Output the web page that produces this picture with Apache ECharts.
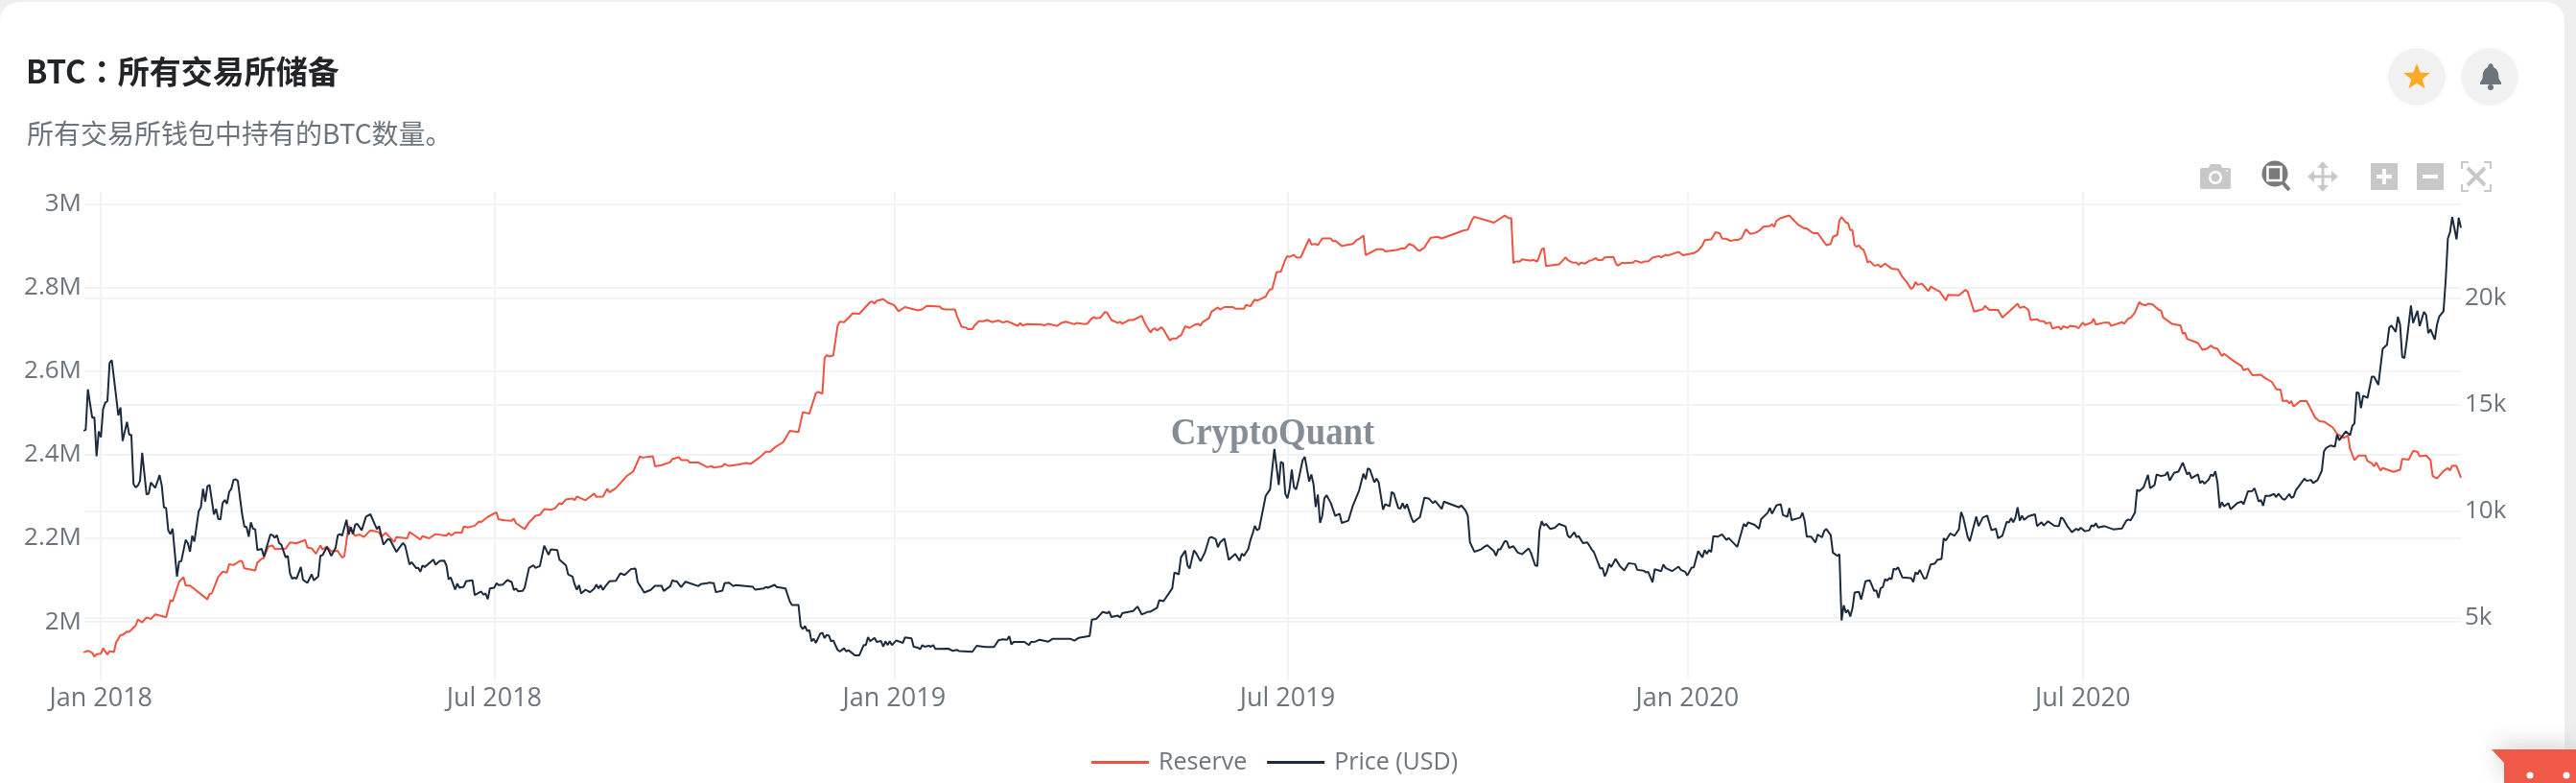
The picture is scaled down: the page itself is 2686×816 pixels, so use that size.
<!DOCTYPE html>
<html>
<head>
<meta charset="utf-8">
<script src="https://cdn.jsdelivr.net/npm/echarts@6/dist/echarts.min.js"></script>
<style>
html,body{margin:0;padding:0;background:#efefef;width:2686px;height:816px;overflow:hidden}
#card{position:absolute;left:0;top:2px;width:2674px;height:900px;background:#fff;border-radius:20px}
#chart{position:absolute;left:0;top:0;width:2686px;height:816px}
</style>
</head>
<body>
<div id="card"></div>
<div id="chart"></div>
<script>
// Readings: [days since 1 Jan 2018, value]. Reserve is in thousand BTC, price in USD.
const reserveReadings = [[-8,1927],[-6,1931],[-4,1926],[-3,1917],[-2,1923],[0,1924],[1,1937],[3,1922],[4,1930],[6,1928],[7,1951],[9,1969],[10,1969],[12,1977],[13,1976],[16,1991],[17,2006],[19,1999],[21,2011],[23,2007],[25,2018],[30,2011],[32,2052],[33,2049],[36,2096],[38,2107],[39,2087],[41,2087],[49,2054],[50,2067],[51,2068],[54,2108],[56,2120],[58,2118],[59,2138],[61,2136],[64,2146],[65,2145],[66,2128],[71,2123],[72,2142],[74,2151],[75,2153],[77,2180],[79,2183],[80,2174],[85,2175],[87,2190],[90,2188],[94,2196],[95,2178],[97,2176],[99,2163],[101,2183],[102,2173],[104,2180],[106,2169],[109,2170],[110,2161],[111,2154],[112,2157],[114,2230],[115,2219],[117,2206],[119,2209],[121,2203],[124,2219],[126,2217],[128,2214],
[129,2203],[131,2213],[135,2191],[136,2203],[141,2200],[142,2215],[147,2197],[148,2205],[151,2200],[154,2210],[159,2206],[160,2213],[161,2207],[162,2209],[163,2214],[166,2213],[167,2228],[169,2226],[172,2230],[174,2240],[175,2239],[178,2251],[182,2262],[183,2245],[186,2243],[189,2242],[190,2247],[191,2236],[195,2222],[197,2238],[198,2243],[200,2254],[202,2256],[204,2270],[207,2268],[209,2272],[211,2284],[212,2281],[214,2293],[217,2295],[218,2291],[219,2300],[223,2291],[227,2307],[228,2299],[231,2300],[233,2318],[234,2310],[237,2320],[242,2349],[245,2360],[248,2396],[249,2393],[254,2396],[255,2372],[258,2375],[262,2382],[263,2390],[264,2391],
[266,2394],[267,2387],[270,2387],[271,2381],[275,2381],[279,2370],[281,2373],[282,2369],[286,2372],[287,2378],[289,2373],[293,2376],[297,2380],[299,2378],[303,2393],[306,2407],[308,2407],[310,2417],[314,2430],[317,2457],[321,2454],[323,2502],[326,2498],[329,2547],[330,2550],[332,2546],[333,2631],[334,2638],[335,2635],[337,2637],[339,2708],[340,2718],[342,2717],[346,2738],[349,2737],[354,2765],[355,2766],[356,2761],[357,2768],[360,2772],[362,2764],[365,2758],[367,2743],[370,2753],[376,2745],[378,2748],[380,2756],[386,2754],[387,2749],[389,2747],[393,2747],[394,2731],[396,2706],[398,2704],[399,2700],[401,2700],[402,2709],
[404,2719],[406,2719],[408,2722],[410,2717],[413,2721],[415,2716],[417,2719],[418,2717],[421,2710],[422,2708],[423,2715],[424,2709],[426,2712],[433,2711],[434,2709],[436,2713],[440,2708],[442,2715],[444,2718],[448,2712],[449,2715],[453,2712],[454,2714],[456,2726],[457,2729],[458,2726],[460,2728],[462,2741],[463,2740],[465,2722],[468,2715],[469,2718],[470,2713],[473,2722],[475,2722],[479,2732],[480,2719],[481,2709],[483,2692],[484,2700],[485,2702],[486,2697],[488,2705],[489,2699],[491,2681],[492,2673],[493,2678],[495,2678],[496,2683],[497,2685],[499,2707],[501,2703],[503,2710],[505,2713],[506,2708],[507,2717],[510,2727],[511,2742],[514,2752],[515,2747],[517,2753],[521,2753],[522,2749],[526,2749],[527,2758],[529,2755],[531,2771],[532,2768],[536,2778],[537,2788],[538,2795],
[539,2796],[541,2836],[543,2838],[545,2866],[546,2875],[547,2873],[549,2878],[550,2872],[552,2871],[556,2916],[557,2903],[559,2904],[560,2901],[562,2917],[566,2917],[567,2910],[568,2912],[571,2899],[574,2902],[576,2904],[578,2914],[579,2916],[581,2924],[582,2877],[587,2891],[590,2891],[591,2886],[597,2890],[598,2893],[600,2893],[602,2904],[604,2900],[606,2889],[607,2888],[609,2895],[610,2904],[612,2919],[615,2921],[617,2917],[627,2936],[629,2938],[631,2962],[632,2969],[641,2955],[646,2972],[648,2965],[649,2966],[650,2858],[651,2862],[653,2862],[654,2867],[658,2864],[659,2866],[661,2862],[663,2891],[664,2894],[665,2851],[671,2855],[674,2872],[675,2865],
[677,2860],[679,2859],[680,2854],[681,2859],[683,2857],[685,2864],[686,2865],[688,2870],[689,2865],[691,2866],[692,2872],[696,2873],[697,2859],[698,2852],[700,2859],[701,2858],[705,2859],[706,2864],[709,2859],[710,2862],[712,2862],[714,2871],[717,2875],[718,2872],[720,2878],[721,2876],[726,2885],[728,2877],[733,2882],[735,2888],[737,2901],[738,2913],[741,2915],[743,2932],[745,2929],[746,2917],[748,2916],[750,2911],[752,2914],[753,2913],[755,2918],[757,2939],[759,2928],[761,2930],[763,2935],[765,2945],[768,2947],[769,2951],[770,2945],[771,2959],[773,2966],[777,2972],[778,2966],[781,2950],[784,2941],[785,2941],[787,2933],[788,2930],[790,2930],[794,2901],[796,2904],[797,2921],[799,2925],[800,2960],[801,2968],[803,2955],[804,2954],[805,2937],[806,2937],[807,2901],[808,2897],[809,2901],[810,2893],[811,2891],[812,2878],
[813,2859],[814,2863],[816,2852],[818,2854],[819,2849],[821,2857],[824,2845],[827,2843],[829,2825],[831,2813],[833,2796],[834,2800],[835,2813],[836,2806],[838,2809],[841,2791],[842,2802],[845,2793],[846,2791],[849,2769],[850,2782],[855,2781],[858,2794],[859,2790],[862,2742],[866,2748],[867,2756],[869,2746],[873,2746],[875,2728],[882,2761],[883,2751],[885,2754],[887,2746],[888,2722],[891,2724],[892,2720],[894,2719],[895,2714],[897,2716],[898,2702],[901,2706],[902,2699],[903,2707],[905,2703],[906,2708],[909,2706],[910,2702],[912,2716],[913,2710],[916,2716],[917,2725],[918,2711],[922,2716],[924,2716],[925,2708],[930,2717],[931,2713],[933,2726],[934,2727],[936,2740],[938,2765],[939,2760],[941,2757],[942,2761],[944,2760],[947,2746],[948,2745],[949,2728],
[953,2713],[957,2709],[958,2689],[959,2692],[960,2677],[965,2667],[967,2651],[969,2653],[971,2661],[972,2656],[974,2653],[976,2636],[977,2641],[982,2622],[985,2612],[986,2602],[988,2606],[990,2590],[994,2591],[996,2583],[999,2574],[1001,2557],[1003,2555],[1004,2528],[1006,2529],[1007,2523],[1008,2528],[1009,2515],[1012,2528],[1015,2528],[1019,2488],[1021,2480],[1023,2479],[1027,2465],[1029,2450],[1032,2440],[1034,2446],[1035,2414],[1037,2387],[1039,2398],[1042,2398],[1043,2385],[1045,2379],[1046,2372],[1047,2381],[1049,2362],[1050,2368],[1055,2359],[1058,2364],[1059,2390],[1062,2388],[1064,2409],[1066,2407],[1067,2396],[1070,2398],[1072,2387],[1073,2349],[1075,2343],[1078,2361],[1080,2368],[1081,2362],[1082,2374],[1084,2373],[1086,2345]];

const priceReadings = [[-8,13772],[-7,13817],[-6,15718],[-4,14386],[-3,14400],[-2,12575],[-1,13742],[0,13473],[1,14790],[2,15090],[3,15164],[4,16961],[5,17080],[7,15389],[8,14490],[9,14865],[10,13293],[12,14192],[13,13593],[14,13577],[15,11272],[16,11108],[17,11198],[18,11422],[19,12739],[21,10778],[22,10823],[23,11348],[25,11092],[27,11692],[28,11198],[29,10179],[30,10149],[31,9102],[32,8922],[33,9177],[35,6931],[36,7634],[37,7650],[39,8652],[40,8503],[41,8098],[42,8847],[43,8578],[45,9999],[46,10179],[47,11048],[48,10449],[49,11168],[50,11228],[52,9851],[53,10105],[54,9641],[55,9611],[56,10374],[57,10524],[58,10344],[59,10898],[60,11048],[61,11466],[62,11496],[63,11422],[65,9851],[66,9281],[67,9251],[68,8802],[69,9476],[70,9177],[71,9147],[72,8174],[74,8234],[75,7874],[78,8907],[79,8877],[80,8757],[81,8877],[82,8503],[83,8428],[85,7830],[86,7904],[87,7081],[88,6827],[89,6886],[90,6827],[92,7380],[93,6781],[95,6631],[97,7036],[98,6751],[100,6931],[101,7904],[102,7934],[104,8324],[106,7904],[108,8278],[109,8862],[110,8922],[111,8847],[113,9595],[114,8892],[115,9251],[116,8922],[117,9371],[118,9401],[120,9102],[122,9745],[124,9851],[127,9161],
[128,9296],[130,8428],[132,8682],[133,8668],[136,8084],[137,8234],[139,8503],[140,8383],[142,7500],[143,7605],[145,7335],[146,7336],[147,7155],[148,7455],[149,7380],[153,7724],[154,7485],[156,7664],[158,7680],[159,7455],[160,6797],[161,6886],[163,6317],[164,6601],[165,6407],[167,6452],[168,6707],[171,6751],[172,6063],[175,6227],[176,6078],[177,6137],[178,5868],[179,6377],[181,6407],[182,6617],[183,6527],[185,6557],[187,6767],[189,6677],[190,6303],[191,6363],[192,6243],[194,6257],[195,6407],[197,7335],[199,7455],[200,7335],[202,7425],[204,8383],[206,7949],[207,8204],[210,8174],[211,7724],[214,7455],[215,7036],[217,6931],[218,6557],[219,6317],[220,6527],[221,6137],[223,6317],[225,6197],[227,6363],[228,6557],[229,6377],[230,6527],[231,6303],[232,6452],[234,6707],[237,6737],[239,7081],[241,7006],[244,7290],[246,7305],[247,6677],[250,6183],[253,6303],[255,6497],[258,6497],[259,6257],[262,6482],[263,6767],[264,6707],
[265,6707],[267,6437],[269,6691],[275,6482],[276,6571],[279,6617],[280,6647],[282,6617],[283,6197],[286,6273],[287,6617],[289,6647],[291,6482],[292,6527],[300,6452],[301,6317],[305,6377],[306,6437],[307,6407],[310,6541],[311,6437],[315,6377],[317,5763],[318,5599],[321,5599],[322,4611],[323,4461],[324,4611],[325,4371],[326,4416],[327,3892],[328,4012],[329,3817],[331,4252],[332,4296],[333,4042],[334,4192],[335,4162],[336,3892],[337,3937],[339,3489],[340,3413],[342,3563],[343,3413],[344,3473],[347,3233],[349,3233],[351,3713],[352,3713],[353,4087],[354,3892],[356,4057],[357,3863],[359,3907],[360,3637],[361,3892],[362,3713],[363,3892],[364,3713],[366,3937],[369,3817],[370,4072],[373,4027],[374,3637],[376,3593],[377,3518],[378,3713],[379,3637],[381,3683],[382,3637],[383,3713],[384,3533],[390,3547],[392,3443],[394,3489],[395,3429],[401,3399],
[403,3683],[407,3623],[411,3623],[413,3937],[415,3982],[417,3967],[418,4132],[419,3743],[420,3863],[425,3863],[427,3713],[428,3863],[430,3877],[432,3967],[436,3877],[438,4012],[446,4012],[448,3922],[450,4057],[455,4147],[456,4910],[458,4940],[461,5270],[463,5210],[464,5284],[465,5030],[468,5104],[469,5014],[470,5210],[475,5314],[477,5524],[479,5150],[482,5284],[483,5284],[486,5464],[487,5823],[489,5778],[493,6377],[494,7125],[496,7036],[497,7830],[499,8144],[500,7455],[501,7305],[503,8158],[504,8024],[506,7650],[508,8054],[510,8728],[511,8787],[513,8682],[514,8308],[515,8532],[517,8712],[519,7710],[522,7994],[524,7664],[525,8008],[526,7904],[528,8234],[529,8652],[530,8952],[531,9311],[532,9102],[533,9177],[536,10718],[538,11018],
[540,12919],[542,11228],[543,12320],[544,12245],[545,10823],[546,10599],[547,11048],[548,11946],[549,11122],[550,11018],[551,11422],[553,12395],[554,12545],[556,11392],[557,11722],[558,11272],[559,10195],[560,10778],[561,9446],[562,9775],[563,10599],[564,10748],[566,10374],[568,9775],[570,9880],[571,9446],[574,9551],[576,10225],[579,10973],[581,11766],[582,11496],[583,12006],[584,11946],[586,11348],[587,11526],[588,11348],[590,10075],[591,10329],[593,10225],[594,10898],[595,10823],[597,10149],[598,10119],[599,10374],[600,10119],[601,10329],[603,9701],[604,9476],[607,9731],[609,10628],[611,10599],[613,10374],[614,10479],[617,10105],[618,10449],[625,10179],[626,10269],[628,10029],[629,9775],[630,8532],[632,8098],[635,8204],[637,8354],[638,8398],[641,8128],[642,7904],[643,8204],[644,8204],[646,8592],[647,8578],[648,8278],[650,8354],[652,8054],[654,7979],[657,8248],[658,8054],[660,7455],[661,7425],[662,9102],[663,9521],[664,9326],[665,9401],[667,9161],[669,9221],[671,9401],[674,9281],[675,8847],
[676,8757],[678,9012],[679,8772],[680,8832],[682,8503],[684,8532],[686,8204],[687,8084],[690,7305],[691,7335],[692,6946],[693,7155],[694,7530],[695,7380],[697,7754],[699,7425],[701,7215],[703,7560],[706,7515],[707,7245],[710,7201],[711,7125],[712,7155],[714,6661],[715,7275],[718,7185],[719,7500],[720,7335],[723,7185],[726,7395],[727,7245],[729,7155],[730,6976],[732,7350],[733,7365],[735,8128],[737,7830],[738,8174],[739,7994],[740,8174],[741,8084],[742,8832],[744,8802],[746,8907],[748,8652],[749,8742],[752,8428],[753,8324],[756,9401],[757,9281],[758,9476],[761,9356],[763,9177],[764,9625],[767,9925],[768,10149],[769,9880],[771,10269],[773,10329],[774,9821],[776,9731],[777,10149],[778,9581],[782,9701],[783,9925],[784,9551],[785,8802],[787,8802],[789,8532],[790,8907],[792,8772],[793,9072],[794,9161],[796,8877],[797,8054],[799,7904],[800,7979],[801,4866],[802,5584],[803,5240],[804,5360],[805,5060],[806,5434],[807,6183],[809,6213],[810,5853],[812,6707],
[814,6751],[816,6257],[817,6287],[818,5928],[819,6393],[820,6437],[821,6811],[822,6737],[823,6857],[824,6811],[825,7305],[826,7260],[827,7365],[829,6886],[833,6857],[834,6677],[835,7125],[836,7036],[837,7245],[839,6827],[840,6857],[842,7500],[844,7545],[845,7710],[847,7754],[848,8728],[849,8622],[851,8952],[853,8847],[855,9147],[856,9955],[857,9701],[859,8802],[860,8592],[863,9745],[864,9296],[866,9701],[868,9791],[870,9102],[872,9177],[873,8728],[875,8847],[877,9505],[878,9461],[879,9671],[880,9476],[881,9701],[882,10179],[883,9551],[884,9791],[885,9595],[887,9761],[890,9851],[891,9296],[893,9476],[894,9326],[896,9521],[899,9311],[901,9296],[902,9701],[903,9641],[905,9281],[907,9012],[909,9177],[910,9102],[911,9221],[913,9057],[915,9102],[916,9341],[917,9281],[918,9431],[919,9237],[922,9296],[926,9147],[930,9191],[932,9551],[933,9611],[934,9565],[936,9925],[937,11002],[938,10943],[940,11122],[942,11706],[943,11078],[945,11228],[946,11722],[948,11646],[949,11676],
[950,11692],[951,11841],[952,11436],[954,11796],[956,11856],[958,12275],[960,11722],[961,11826],[962,11542],[965,11722],[966,11318],[967,11422],[968,11288],[970,11496],[971,11722],[972,11646],[973,11871],[974,11318],[975,10149],[976,10419],[977,10225],[979,10374],[980,10089],[983,10374],[985,10449],[986,10329],[988,10928],[990,10943],[991,11078],[993,10449],[994,10524],[995,10254],[996,10718],[998,10718],[1000,10808],[1001,10658],[1002,10823],[1004,10569],[1005,10539],[1007,10808],[1008,10628],[1009,10673],[1010,10973],[1014,11526],[1015,11422],[1017,11466],[1018,11318],[1020,11452],[1022,11901],[1023,12814],[1024,12963],[1026,13083],[1028,13023],[1029,13593],[1030,13323],[1033,13742],[1035,13563],[1036,13996],[1037,14116],[1038,15583],[1039,15539],[1040,14835],[1041,15419],[1043,15314],[1045,16317],[1046,16317],[1048,15927],[1050,17620],[1052,17814],[1053,18607],[1054,18712],[1056,18413],[1057,19117],[1058,18757],[1059,17230],[1060,17185],[1061,17934],[1063,19655],[1064,18832],[1066,19401],[1067,18682],[1069,19355],[1070,19206],[1071,18353],[1072,18532],[1074,18054],[1075,18757],[1076,19131],[1078,19385],[1079,20852],[1080,22799],[1081,23098],[1082,23802],[1084,22753],[1085,23772],[1086,23298]];

const xTickDates = ['2018-01-01','2018-07-01','2019-01-01','2019-07-01','2020-01-01','2020-07-01'];
const reserveTicks = [2000000,2200000,2400000,2600000,2800000,3000000];
const priceTicks = [5000,10000,15000,20000];
const seriesNames = ['Reserve','Price (USD)'];

const BASE = Date.UTC(2018,0,1), DAY = 86400000;
const toDate = d => BASE + d*DAY;
const reserveData = reserveReadings.map(r => [toDate(r[0]), r[1]*1000]);
const priceData = priceReadings.map(r => [toDate(r[0]), r[1]]);
const xTicks = xTickDates.map(s => Date.parse(s+'T00:00:00Z'));
const MONTHS = ['Jan','Feb','Mar','Apr','May','Jun','Jul','Aug','Sep','Oct','Nov','Dec'];

const GRID = '#f2f3f4', TEXT = '#6c757d', RED = '#ef5340', DARK = '#1b2a3c';
const ICON = '#c8c8c8';
const FONT = '"Open Sans", sans-serif';

function star(cx, cy, R, r){
  const pts = [];
  for(let i=0;i<10;i++){
    const a = -Math.PI/2 + i*Math.PI/5, q = i%2 ? r : R;
    pts.push([cx+q*Math.cos(a), cy+q*Math.sin(a)]);
  }
  return pts;
}

const decorations = [
  {type:'text',z:1,x:1327,y:453,scaleX:0.92,style:{x:0,y:0,text:'CryptoQuant',fill:'#858d96',font:'bold 40px "Liberation Serif", serif',textAlign:'center',textVerticalAlign:'middle'}},
  // header buttons
  {type:'circle',shape:{cx:2520,cy:80,r:30},style:{fill:'#f2f2f2'}},
  {type:'circle',shape:{cx:2596,cy:80,r:30},style:{fill:'#f2f2f2'}},
  {type:'polygon',shape:{points:star(2520,80.5,14.5,6.2)},style:{fill:'#fba926'}},
  {type:'polygon',shape:{points:[[2597,66],[2599,67],[2600,70],[2603,72],[2605,76],[2605.5,82],[2608,86],[2608,88],[2586,88],[2586,86],[2588.5,82],[2589,76],[2591,72],[2594,70],[2595,67]]},style:{fill:'#6c757d'}},
  {type:'circle',shape:{cx:2597,cy:91,r:3},style:{fill:'#6c757d'}},
  // toolbar: camera
  {type:'rect',shape:{x:2294,y:175,width:32,height:22,r:2},style:{fill:ICON}},
  {type:'polygon',shape:{points:[[2302,176],[2305,171],[2315,171],[2318,176]]},style:{fill:ICON}},
  {type:'circle',shape:{cx:2310,cy:185,r:7},style:{fill:'#fff'}},
  {type:'circle',shape:{cx:2310,cy:185,r:4.5},style:{fill:ICON}},
  {type:'circle',shape:{cx:2322,cy:178,r:1},style:{fill:'#fff'}},
  // toolbar: zoom
  {type:'line',shape:{x1:2380,y1:190,x2:2387,y2:198},style:{stroke:'#7a7a7a',lineWidth:4}},
  {type:'circle',shape:{cx:2372,cy:181,r:13.5},style:{fill:'#7a7a7a'}},
  {type:'rect',shape:{x:2364.5,y:174,width:14,height:14},style:{fill:'#7a7a7a',stroke:'#fff',lineWidth:2.5}},
  // toolbar: pan
  {type:'rect',shape:{x:2420.5,y:172,width:3,height:24},style:{fill:ICON}},
  {type:'rect',shape:{x:2410,y:182.5,width:24,height:3},style:{fill:ICON}},
  {type:'polygon',shape:{points:[[2422,168],[2428,175],[2416,175]]},style:{fill:ICON}},
  {type:'polygon',shape:{points:[[2422,200],[2428,193],[2416,193]]},style:{fill:ICON}},
  {type:'polygon',shape:{points:[[2406,184],[2413,178],[2413,190]]},style:{fill:ICON}},
  {type:'polygon',shape:{points:[[2438,184],[2431,178],[2431,190]]},style:{fill:ICON}},
  // toolbar: plus, minus
  {type:'rect',shape:{x:2472,y:170,width:28,height:28},style:{fill:ICON}},
  {type:'rect',shape:{x:2478,y:182,width:16,height:4},style:{fill:'#fff'}},
  {type:'rect',shape:{x:2484,y:176,width:4,height:16},style:{fill:'#fff'}},
  {type:'rect',shape:{x:2520,y:170,width:28,height:28},style:{fill:ICON}},
  {type:'rect',shape:{x:2526,y:182,width:16,height:4},style:{fill:'#fff'}},
  // toolbar: autoscale
  {type:'polyline',shape:{points:[[2567,176],[2567,169],[2574,169]]},style:{stroke:ICON,lineWidth:2,fill:null}},
  {type:'polyline',shape:{points:[[2590,169],[2597,169],[2597,176]]},style:{stroke:ICON,lineWidth:2,fill:null}},
  {type:'polyline',shape:{points:[[2567,192],[2567,199],[2574,199]]},style:{stroke:ICON,lineWidth:2,fill:null}},
  {type:'polyline',shape:{points:[[2590,199],[2597,199],[2597,192]]},style:{stroke:ICON,lineWidth:2,fill:null}},
  {type:'line',shape:{x1:2573,y1:175,x2:2591,y2:193},style:{stroke:ICON,lineWidth:4}},
  {type:'line',shape:{x1:2591,y1:175,x2:2573,y2:193},style:{stroke:ICON,lineWidth:4}},
  // chat widget in the corner
  {type:'polygon',z:20,shape:{points:[[2598,781],[2686,781],[2686,816],[2611,816],[2611,795]]},style:{fill:'#ee5a47',shadowBlur:24,shadowColor:'rgba(0,0,0,0.18)',shadowOffsetY:-4}},
  {type:'circle',z:21,shape:{cx:2638,cy:808,r:3.5},style:{fill:'#fff'}},
  {type:'circle',z:21,shape:{cx:2676,cy:808,r:3.5},style:{fill:'#fff'}}
];

const chart = echarts.init(document.getElementById('chart'), null, {renderer:'canvas'});
chart.setOption({
  animation:false,
  backgroundColor:'transparent',
  title:[
    {text:'{a|BTC}{c|：}{a|所有交易所储备}',left:22,top:53,textStyle:{rich:{
      a:{fontFamily:'"Noto Sans CJK SC"',fontSize:33,fontWeight:'bold',color:'#212529'},
      c:{fontFamily:'"Noto Sans CJK TC"',fontSize:33,fontWeight:'bold',color:'#212529'}}}},
    {text:'所有交易所钱包中持有的BTC数量。',left:23,top:120,textStyle:{fontFamily:'"Noto Sans CJK SC"',fontSize:28,fontWeight:400,color:TEXT}}
  ],
  legend:{
    data:seriesNames,left:1133,top:777,itemWidth:60,itemHeight:3,itemGap:21,icon:'rect',
    textStyle:{fontFamily:FONT,fontSize:25,color:TEXT,padding:[0,0,0,5]}
  },
  grid:{left:88,right:120,top:200,bottom:107,containLabel:false},
  xAxis:{
    type:'value',
    min:toDate(-7.6),max:toDate(1086),
    axisLine:{show:false},
    axisTick:{show:false,customValues:xTicks},
    splitLine:{show:true,lineStyle:{color:GRID,width:2}},
    axisLabel:{
      customValues:xTicks,margin:6,hideOverlap:false,showMinLabel:true,showMaxLabel:true,
      fontFamily:FONT,fontSize:27,color:TEXT,
      formatter:v=>{const d=new Date(v);return MONTHS[d.getUTCMonth()]+' '+d.getUTCFullYear();}
    }
  },
  yAxis:[
    {
      type:'value',position:'left',min:1860300,max:3028400,
      axisLine:{show:false},
      axisTick:{show:false,customValues:reserveTicks},
      splitLine:{show:true,lineStyle:{color:GRID,width:2}},
      axisLabel:{customValues:reserveTicks,margin:3,padding:[4,0,0,0],fontFamily:FONT,fontSize:26,color:TEXT,
        formatter:v=>(v/1e6)+'M'}
    },
    {
      type:'value',position:'right',min:2061,max:24982,
      axisLine:{show:false},
      axisTick:{show:false,customValues:priceTicks},
      splitLine:{show:true,lineStyle:{color:GRID,width:2}},
      axisLabel:{customValues:priceTicks,margin:4,padding:[4,0,0,0],fontFamily:FONT,fontSize:26,color:TEXT,
        formatter:v=>(v/1000)+'k'}
    }
  ],
  series:[
    {name:seriesNames[0],type:'line',yAxisIndex:0,data:reserveData,showSymbol:false,symbol:'none',smooth:false,
      lineStyle:{color:RED,width:2},itemStyle:{color:RED},z:3,clip:true},
    {name:seriesNames[1],type:'line',yAxisIndex:1,data:priceData,showSymbol:false,symbol:'none',smooth:false,
      lineStyle:{color:DARK,width:2},itemStyle:{color:DARK},z:4,clip:true}
  ],
  graphic:{elements:decorations}
});
</script>
</body>
</html>
